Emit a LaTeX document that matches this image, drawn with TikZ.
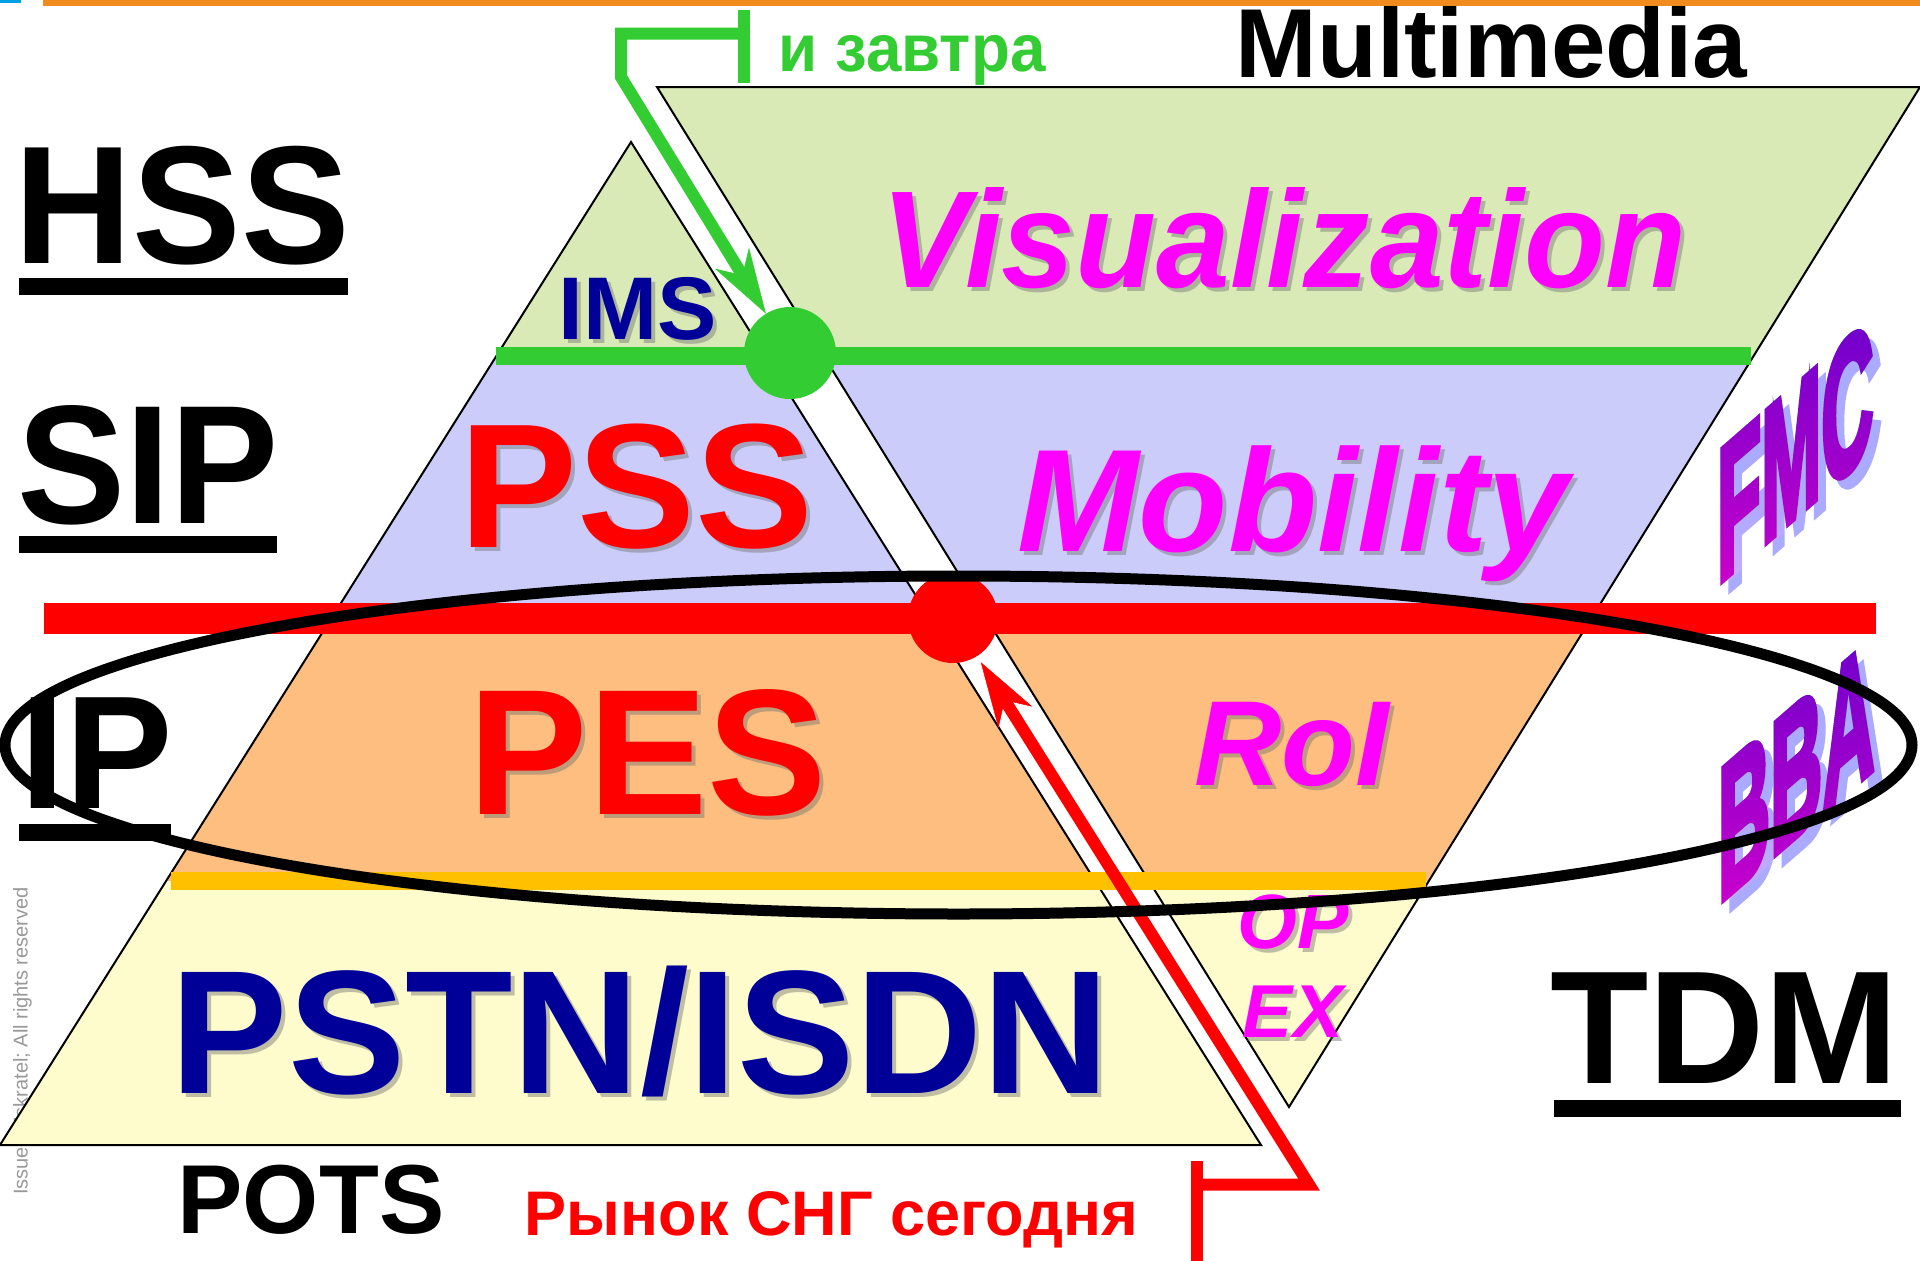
\documentclass[tikz,border=0pt]{standalone}
\usepackage{fontspec}
\setmainfont{Liberation Sans}
\newfontfamily\wafont[FakeBold=4]{Liberation Sans}
\usetikzlibrary{arrows.meta}

\definecolor{bandG}{RGB}{217,234,183}
\definecolor{bandB}{RGB}{204,204,250}
\definecolor{bandO}{RGB}{253,190,127}
\definecolor{bandY}{RGB}{254,252,204}
\definecolor{topline}{RGB}{240,140,30}
\definecolor{topmark}{RGB}{0,160,226}
\definecolor{gline}{RGB}{51,204,51}
\definecolor{yline}{RGB}{255,192,0}
\definecolor{navy}{RGB}{0,0,153}
\definecolor{mag}{RGB}{255,0,255}
\definecolor{waTop}{RGB}{102,0,204}
\definecolor{waBot}{RGB}{204,0,204}
\definecolor{waShadow}{RGB}{170,170,255}

\newcommand\fsz[1]{\fontsize{#1}{#1}\selectfont}

% text with a soft drop shadow: name, x, y, size, shape, colour, text
\newcommand\shtxt[7]{%
  \node[lbl, text=black!55, opacity=0.45, font=\fsz{#4}#5] (#1-sh) at ({#2+4},{#3+4}) {#7};
  \node[lbl, text=#6, font=\fsz{#4}#5] (#1) at (#2,#3) {#7};}

% slanted word art, coloured by a vertical gradient laid over black letters;
% name, x, y, text, upper limit of the gradient band
\newcommand\wordart[5]{%
  \begin{scope}[shift={({#2+8},{#3+9})}, cm={0.38,0.33,0,1,(0,0)}]
    \node[wa, text=waShadow] (#1-sh) at (0,0) {#4};
  \end{scope}
  \begin{scope}
    \clip (1600,#5) rectangle (1920,1261);
    \begin{scope}[shift={(#2,#3)}, cm={0.38,0.33,0,1,(0,0)}]
      \node[wa, text=black] (#1) at (0,0) {#4};
      \shade[top color=waTop, bottom color=waBot, blend mode=lighten]
        (-15,6) rectangle (450,-146);
    \end{scope}
  \end{scope}}

\begin{document}
\begin{tikzpicture}[x=1pt,y=-1pt,
  lbl/.style={inner sep=0pt, anchor=base},
  edge/.style={line width=2pt, line join=miter},
  garrow/.style={draw=gline, line width=12pt, line join=miter},
  rarrow/.style={draw=red, line width=12pt, line join=miter},
  bigtip/.style={-{Stealth[length=65pt, width=40pt, inset=20pt, line width=0.5pt]}},
  dot/.style={circle, inner sep=0pt, draw=none},
  wa/.style={inner sep=0pt, anchor=base west, transform shape, font=\fsz{190}\wafont\bfseries},
]
\useasboundingbox (0,0) rectangle (1920,1261);
\fill[white] (0,0) rectangle (1920,1261);

% top rule
\fill[topline] (43,0) rectangle (1920,6);
\fill[topmark] (0,0) rectangle (21,3);

% footer note, partly hidden by the pyramid
\node[lbl, rotate=90, text=black!40, font=\fsz{20}] (issued) at (27.5,1041) {Issued: Iskratel;  All rights reserved};

% corner points of the two pyramids
\coordinate (LA) at (631,142);
\coordinate (LL) at (0,1145);
\coordinate (LR) at (1261,1145);
\coordinate (RL) at (657,87);
\coordinate (RR) at (1920,87);
\coordinate (RA) at (1289,1107);

% upright pyramid
\begin{scope}
  \clip (LA) -- (LL) -- (LR) -- cycle;
  \fill[bandG] (0,0) rectangle (1920,356);
  \fill[bandB] (0,356) rectangle (1920,618);
  \fill[bandO] (0,618) rectangle (1920,881);
  \fill[bandY] (0,881) rectangle (1920,1261);
\end{scope}
\draw[edge] (LA) -- (LL) -- (LR) -- cycle;

% inverted pyramid
\begin{scope}
  \clip (RL) -- (RR) -- (RA) -- cycle;
  \fill[bandG] (0,0) rectangle (1920,356);
  \fill[bandB] (0,356) rectangle (1920,618);
  \fill[bandO] (0,618) rectangle (1920,881);
  \fill[bandY] (0,881) rectangle (1920,1261);
\end{scope}
\draw[edge] (RL) -- (RR) -- (RA) -- cycle;

% level bars
\fill[gline] (496,347) rectangle (1751,365);
\fill[red] (44,603) rectangle (1876,634);
\fill[yline] (171,872) rectangle (1426,890);

% junction dots
\node[dot, fill=gline, minimum size=92pt] (gdot) at (790,353) {};
\node[dot, fill=red, minimum size=90pt] (rdot) at (953,618) {};

% side labels
\node[lbl, font=\fsz{168}\bfseries] (hss) at (182.5,263) {\scalebox{0.97}[1]{HSS}};
\fill (19,278) rectangle (348,295);
\node[lbl, font=\fsz{169}\bfseries] (sip) at (148,523) {\scalebox{0.96}[1]{SIP}};
\fill (19,536) rectangle (277,553);
\node[lbl, font=\fsz{161}\bfseries] (ip) at (97,808) {IP};
\fill (19,824) rectangle (171,841);
\node[lbl, font=\fsz{161}\bfseries] (tdm) at (1724.5,1083) {TDM};
\fill (1554,1100) rectangle (1901,1117);
\node[lbl, font=\fsz{98}\bfseries] (pots) at (311,1233) {POTS};
\node[lbl, font=\fsz{98}\bfseries] (mm) at (1491.5,77) {Multimedia};
\node[lbl, text=gline, font=\fsz{67}\bfseries] (zavtra) at (912,71.5) {\scalebox{0.95}[1]{и завтра}};
\node[lbl, text=red, font=\fsz{63}\bfseries] (rynok) at (831.5,1235) {Рынок СНГ сегодня};

% labels inside the pyramids
\shtxt{ims}{637.5}{339}{89}{\bfseries}{navy}{IMS}
\shtxt{pss}{636.5}{547}{177}{\bfseries}{red}{PSS}
\shtxt{pes}{648}{814}{179}{\bfseries}{red}{PES}
\shtxt{pstn}{640}{1093}{176}{\bfseries}{navy}{PSTN/ISDN}
\shtxt{vis}{1284}{287}{138}{\bfseries\itshape}{mag}{\scalebox{0.96}[1]{Visualization}}
\shtxt{mob}{1293}{551}{146}{\bfseries\itshape}{mag}{Mobility}
\shtxt{roi}{1292}{785}{121}{\bfseries\itshape}{mag}{RoI}
\shtxt{op}{1293}{948}{77}{\bfseries\itshape}{mag}{OP}
\shtxt{ex}{1293}{1037}{75}{\bfseries\itshape}{mag}{EX}

% slanted side words
\wordart{fmc}{1717}{585}{FMC}{0}
\wordart{bba}{1718}{904}{BBA}{636}

% "tomorrow" pointer
\coordinate (gt1) at (744,10);
\coordinate (gt2) at (744,83);
\coordinate (gc1) at (744,33.5);
\coordinate (gc2) at (621,33.5);
\coordinate (gc3) at (621,77);
\draw[garrow] (gt1) -- (gt2);
\draw[garrow, bigtip] (gc1) -- (gc2) -- (gc3) -- (gdot);

% "today" pointer
\coordinate (rt1) at (1196.5,1161);
\coordinate (rt2) at (1196.5,1261);
\coordinate (rc1) at (1196.5,1184.5);
\coordinate (rc2) at (1309,1184.5);
\draw[rarrow] (rt1) -- (rt2);
\draw[rarrow, bigtip, shorten >=7pt] (rc1) -- (rc2) -- (rdot);

% IP ring
\draw[line width=11pt] (958.5,745) ellipse [x radius=953.5, y radius=169];
\end{tikzpicture}
\end{document}
